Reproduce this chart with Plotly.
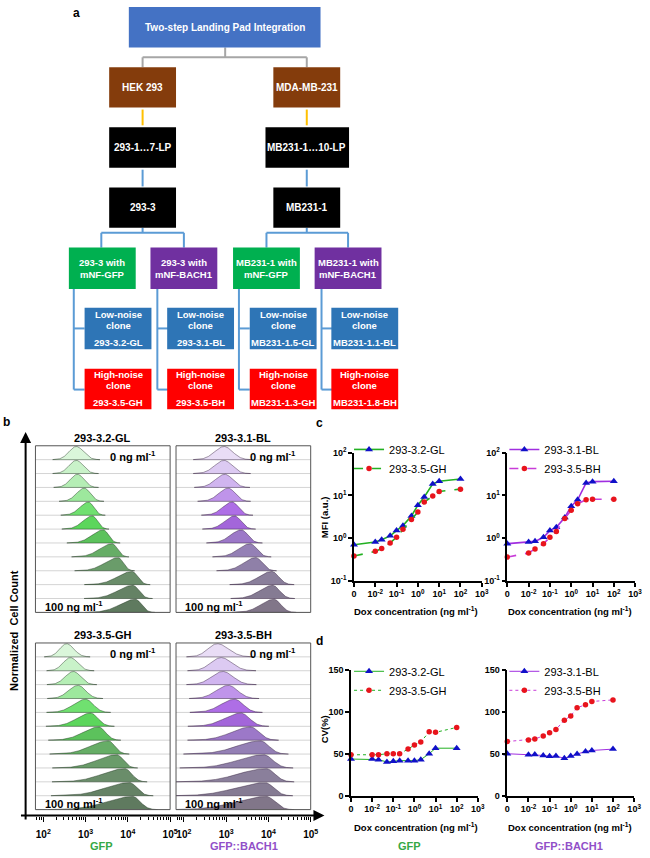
import numpy as np
import plotly.graph_objects as go

W, H = 650, 858


def X(px):
    return px / W


def Y(py):
    return 1 - py / H


FONT = "Liberation Sans, Arial, Helvetica, sans-serif"
BOXFONT = "Liberation Sans, Arial, Helvetica, sans-serif"

# ---------------- data: dose response ----------------
dox = [0, 0.01, 0.02, 0.05, 0.1, 0.2, 0.5, 1, 2, 5, 10, 100]
zero_pos = 0.001
dox_tickvals = [0.001, 0.01, 0.1, 1, 10, 100, 1000]
dox_ticktext = ["0", "10<sup>-2</sup>", "10<sup>-1</sup>", "10<sup>0</sup>",
                "10<sup>1</sup>", "10<sup>2</sup>", "10<sup>3</sup>"]
mfi_tickvals = [0.1, 1, 10, 100]
mfi_ticktext = ["10<sup>-1</sup>", "10<sup>0</sup>", "10<sup>1</sup>", "10<sup>2</sup>"]
cv_tickvals = [0, 50, 100, 150]

mfi_GL = [0.70, 0.81, 0.92, 1.13, 1.50, 1.96, 3.3, 5.9, 9.2, 18.6, 21.5, 24.2]
mfi_GH = [0.38, 0.49, 0.57, 0.77, 1.05, 1.61, 2.74, 4.1, 7.0, 9.7, 12.4, 14.0]
mfi_BL = [0.74, 0.81, 0.84, 1.05, 1.50, 1.79, 3.05, 5.6, 7.9, 19.6, 21.0, 21.4]
mfi_BH = [0.36, 0.45, 0.56, 0.74, 1.05, 1.43, 2.9, 4.5, 6.4, 7.9, 8.1, 8.1]

cv_GL = [43.7, 43.7, 43.0, 40.2, 41.0, 41.8, 41.8, 41.8, 43.0, 50.0, 56.6, 56.6]
cv_GH = [48.8, 48.8, 48.8, 50.0, 50.0, 50.0, 55.5, 60.5, 64.0, 76.0, 75.4, 81.3]
cv_BL = [50.0, 48.8, 49.2, 48.0, 46.9, 47.3, 44.5, 47.3, 49.6, 52.7, 53.9, 55.5]
cv_BH = [64.5, 66.4, 67.6, 71.1, 75.0, 78.9, 89.8, 94.9, 104.7, 108.2, 112.1, 114.0]

# ---------------- data: histograms (log10 peak, left / right spread in decades) ----------------
GL_peak = [2.78, 2.78, 2.81, 2.97, 3.07, 3.16, 3.42, 3.63, 3.77, 4.10, 4.12, 4.18]
GL_sl = [0.17, 0.17, 0.17, 0.18, 0.20, 0.22, 0.26, 0.29, 0.31, 0.34, 0.35, 0.36]
GL_sr = [0.17, 0.16, 0.15, 0.14, 0.12, 0.12, 0.12, 0.12, 0.12, 0.13, 0.14, 0.14]

BL_peak = [2.95, 2.95, 2.97, 3.05, 3.14, 3.20, 3.36, 3.57, 3.70, 4.08, 4.10, 4.13]
BL_sl = [0.22, 0.22, 0.22, 0.22, 0.22, 0.23, 0.25, 0.27, 0.28, 0.30, 0.30, 0.30]
BL_sr = [0.20, 0.19, 0.18, 0.16, 0.15, 0.15, 0.15, 0.15, 0.15, 0.16, 0.16, 0.16]

GH_peak = [2.55, 2.64, 2.71, 2.82, 3.00, 3.12, 3.31, 3.54, 3.74, 3.93, 4.04, 4.11]
GH_sl = [0.16, 0.17, 0.19, 0.22, 0.28, 0.32, 0.36, 0.42, 0.46, 0.52, 0.56, 0.60]
GH_sr = [0.17, 0.17, 0.17, 0.18, 0.18, 0.17, 0.16, 0.15, 0.15, 0.16, 0.17, 0.18]

BH_peak = [2.79, 2.88, 2.92, 3.05, 3.20, 3.35, 3.58, 3.81, 3.89, 3.95, 3.92, 3.95]
BH_sl = [0.22, 0.24, 0.26, 0.28, 0.32, 0.38, 0.45, 0.55, 0.60, 0.65, 0.68, 0.70]
BH_sr = [0.26, 0.25, 0.24, 0.22, 0.20, 0.20, 0.20, 0.20, 0.21, 0.20, 0.20, 0.20]

gfp_colors = ["#daf6da", "#c9f2c9", "#b5eeb5", "#9de89d", "#70e070", "#5cd65c",
              "#5cc25c", "#66ad66", "#6a9c6a", "#6a8d6a", "#658265", "#5f7a5f"]
bach_colors = ["#e9ddf6", "#dccaf2", "#d0b5ef", "#bf94ea", "#ae6ee6", "#a366da",
               "#9c78c8", "#9480b5", "#8f80a8", "#8a7f9b", "#857b93", "#817689"]

hist_titles = ["293-3.2-GL", "293-3.1-BL", "293-3.5-GH", "293-3.5-BH"]

# ---------------- figure ----------------
fig = go.Figure()
shapes = []
ann = []


def line(x0, y0, x1, y1, color, width=2):
    shapes.append(dict(type="line", xref="paper", yref="paper", x0=X(x0), y0=Y(y0),
                       x1=X(x1), y1=Y(y1), line=dict(color=color, width=width)))


def box(x0, y0, x1, y1, color):
    shapes.append(dict(type="rect", xref="paper", yref="paper", x0=X(x0), y0=Y(y1),
                       x1=X(x1), y1=Y(y0), fillcolor=color, line=dict(width=0)))


def text(x, y, s, size=9.5, color="white", family=BOXFONT, bold=True, angle=0,
         xanchor="center"):
    ann.append(dict(xref="paper", yref="paper", x=X(x), y=Y(y),
                    text=f"<b>{s}</b>" if bold else s, showarrow=False,
                    font=dict(size=size, color=color, family=family),
                    xanchor=xanchor, yanchor="middle", textangle=angle))


# ---------------- panel a ----------------
text(75, 6, "a", size=12, color="black", family=FONT)
GREY, YEL, LBLUE = "#A6A6A6", "#FFC000", "#5B9BD5"
line(226, 41, 226, 51, GREY)
line(142, 51, 309, 51, GREY)
line(142, 51, 142, 61, GREY)
line(309, 51, 309, 61, GREY)
line(142, 104, 142, 120, YEL)
line(309, 104, 309, 120, YEL)
line(142, 165, 142, 182, LBLUE)
line(309, 165, 309, 182, LBLUE)
for cx, l, r in [(142, 100, 184), (309, 268, 351)]:
    line(cx, 224, cx, 229, LBLUE)
    line(l, 229, r, 229, LBLUE)
    line(l, 229, l, 244, LBLUE)
    line(r, 229, r, 244, LBLUE)
for bx in [72, 157, 240, 324]:
    line(bx, 286, bx, 388, LBLUE)
    line(bx, 326, bx + 11, 326, LBLUE)
    line(bx, 388, bx + 11, 388, LBLUE)

box(128, 0, 323, 41, "#4472C4")
text(226, 21, "Two-step Landing Pad Integration", size=10)
box(108, 61, 176, 102, "#843C0C")
text(142, 82, "HEK 293", size=10)
box(275, 61, 343, 102, "#843C0C")
text(309, 82, "MDA-MB-231", size=10)
box(108, 122, 176, 163, "#000000")
text(142, 142, "293-1…7-LP", size=10)
box(267, 122, 352, 163, "#000000")
text(309, 142, "MB231-1…10-LP", size=10)
box(108, 183, 176, 224, "#000000")
text(142, 203, "293-3", size=10)
box(275, 183, 343, 224, "#000000")
text(309, 203, "MB231-1", size=10)

construct_l1 = ["293-3 with", "293-3 with", "MB231-1 with", "MB231-1 with"]
construct_l2 = ["mNF-GFP", "mNF-BACH1", "mNF-GFP", "mNF-BACH1"]
construct_col = ["#00B050", "#7030A0", "#00B050", "#7030A0"]
low_names = ["293-3.2-GL", "293-3.1-BL", "MB231-1.5-GL", "MB231-1.1-BL"]
high_names = ["293-3.5-GH", "293-3.5-BH", "MB231-1.3-GH", "MB231-1.8-BH"]
for i, x0 in enumerate([67, 150, 234, 317]):
    box(x0, 244, x0 + 68, 286, construct_col[i])
    text(x0 + 34, 259, construct_l1[i])
    text(x0 + 34, 271, construct_l2[i])
for i, x0 in enumerate([83, 167, 251, 334]):
    box(x0, 305, x0 + 68, 347, "#2E75B6")
    text(x0 + 34, 312, "Low-noise")
    text(x0 + 34, 323, "clone")
    text(x0 + 34, 340, low_names[i])
    box(x0, 367, x0 + 68, 408, "#FF0000")
    text(x0 + 34, 373, "High-noise")
    text(x0 + 34, 384, "clone")
    text(x0 + 34, 401, high_names[i])

# ---------------- panel b: histograms ----------------
text(4, 421, "b", size=12, color="black", family=FONT)
HRANGE = [1.814, 5.0]
grid = np.linspace(HRANGE[0], HRANGE[1], 400)
hist_sets = [
    (1, GL_peak, GL_sl, GL_sr, gfp_colors, (33, 170, 445, 614)),
    (2, BL_peak, BL_sl, BL_sr, bach_colors, (176, 313, 445, 614)),
    (3, GH_peak, GH_sl, GH_sr, gfp_colors, (33, 170, 645, 814)),
    (4, BH_peak, BH_sl, BH_sr, bach_colors, (176, 313, 645, 814)),
]
layout_axes = {}
for k, peaks, sl, sr, cols, (x0, x1, y0, y1) in hist_sets:
    xa = "x" if k == 1 else f"x{k}"
    ya = "y" if k == 1 else f"y{k}"
    xname = "xaxis" if k == 1 else f"xaxis{k}"
    yname = "yaxis" if k == 1 else f"yaxis{k}"
    for i in range(12):
        base = 11 - i
        s = np.where(grid < peaks[i], sl[i], sr[i])
        d = np.exp(-0.5 * ((grid - peaks[i]) / s) ** 2)
        m = d > 0.004
        g = grid[m]
        yv = base + 0.95 * d[m]
        xs = np.concatenate([10 ** g, 10 ** g[::-1]])
        ys = np.concatenate([yv, np.full(g.size, base)])
        edge = "rgba(30,50,30,0.55)" if cols is gfp_colors else "rgba(50,30,60,0.55)"
        fig.add_trace(go.Scatter(x=xs, y=ys, mode="lines", fill="toself",
                                 fillcolor=cols[i], line=dict(color=edge, width=0.8),
                                 xaxis=xa, yaxis=ya, showlegend=False, hoverinfo="skip"))
        shapes.append(dict(type="line", xref=f"{xa} domain", yref=ya, x0=0, x1=1,
                           y0=base, y1=base, line=dict(color="#d4d4d4", width=1),
                           layer="below"))
    shapes.append(dict(type="rect", xref=f"{xa} domain", yref=f"{ya} domain",
                       x0=0, x1=1, y0=0, y1=1, line=dict(color="#555555", width=1)))
    xax = dict(domain=[X(x0), X(x1)], type="log", range=HRANGE, showgrid=False,
               zeroline=False, showline=False)
    if k <= 2:
        xax.update(visible=False, anchor=ya)
    else:
        xax.update(anchor="free", position=Y(820), tickmode="linear", tick0=0, dtick=1,
                   exponentformat="power", showexponent="all", ticks="outside",
                   ticklen=5, tickwidth=1.2, tickcolor="black",
                   minor=dict(ticks="outside", ticklen=3, dtick="D1", tickcolor="black",
                              tickwidth=1),
                   tickfont=dict(family=FONT, size=8, color="black", weight="bold"),
                   ticklabelstandoff=5)
    layout_axes[xname] = xax
    layout_axes[yname] = dict(domain=[Y(y1), Y(y0)], range=[0, 12], visible=False,
                              anchor=xa)
    tx = (x0 + x1) / 2
    text(tx, y0 - 8, hist_titles[k - 1], size=11, color="black", family=FONT)
    text(x1 - 38, y0 + 10, "0 ng ml<sup>-1</sup>", size=11, color="black", family=FONT)
    text(x0 + 39, y1 - 7, "100 ng ml<sup>-1</sup>", size=11, color="black", family=FONT)

text(11, 632, "Normalized  Cell Count", size=11, color="black", family=FONT, angle=-90)
ann.append(dict(xref="paper", yref="paper", x=X(23), y=Y(431), ax=0, ay=389, text="",
                showarrow=True, arrowhead=2, arrowsize=1.1, arrowwidth=2,
                arrowcolor="black", standoff=0))
ann.append(dict(xref="paper", yref="paper", x=X(327), y=Y(820), ax=-305, ay=0, text="",
                showarrow=True, arrowhead=2, arrowsize=1.1, arrowwidth=2,
                arrowcolor="black", standoff=0))
GFPC, BACHC = "#35a845", "#9150c8"
text(100, 851, "GFP", size=11, color=GFPC, family=FONT)
text(245, 851, "GFP::BACH1", size=11, color=BACHC, family=FONT)

# ---------------- panels c and d ----------------
text(322, 422, "c", size=12, color="black", family=FONT)
text(322, 643, "d", size=12, color="black", family=FONT)
dox_plot = [zero_pos if v == 0 else v for v in dox]

BLUE, RED = "#1010c8", "#e8141c"
GL_LINE, BL_LINE, BH_LINE = "#22b022", "#a02ee0", "#c83cd8"

line_sets = [
    (5, mfi_GL, mfi_GH, "293-3.2-GL", "293-3.5-GH", GL_LINE, GL_LINE, "dash", 1.6, "legend"),
    (6, mfi_BL, mfi_BH, "293-3.1-BL", "293-3.5-BH", BL_LINE, BH_LINE, "dash", 1.6, "legend2"),
    (7, cv_GL, cv_GH, "293-3.2-GL", "293-3.5-GH", GL_LINE, GL_LINE, "dot", 1.0, "legend3"),
    (8, cv_BL, cv_BH, "293-3.1-BL", "293-3.5-BH", BL_LINE, BH_LINE, "dot", 1.0, "legend4"),
]
for k, lo, hi, nlo, nhi, clo, chi, dash, lw, lg in line_sets:
    xa, ya = f"x{k}", f"y{k}"
    fig.add_trace(go.Scatter(x=dox_plot, y=lo, name=nlo, mode="lines+markers",
                             line=dict(color=clo, width=lw),
                             marker=dict(symbol="triangle-up", size=7, color=BLUE),
                             xaxis=xa, yaxis=ya, legend=lg, cliponaxis=False))
    fig.add_trace(go.Scatter(x=dox_plot, y=hi, name=nhi, mode="lines+markers",
                             line=dict(color=chi, width=lw, dash=dash),
                             marker=dict(symbol="circle", size=5.5, color=RED),
                             xaxis=xa, yaxis=ya, legend=lg, cliponaxis=False))

tickfont = dict(family=FONT, size=9, color="black", weight="bold")
axcommon = dict(showline=True, linewidth=1.5, linecolor="black", ticks="outside",
                ticklen=4, tickwidth=1.5, tickcolor="black", showgrid=False,
                zeroline=False, tickfont=tickfont)
plot_boxes = {5: (357, 487, 452, 582), 6: (513, 643, 452, 582),
              7: (354, 483, 672, 800), 8: (513, 642, 672, 800)}
for k, (x0, x1, y0, y1) in plot_boxes.items():
    xa = dict(domain=[X(x0), X(x1)], anchor=f"y{k}", type="log", range=[-3, 3],
              tickmode="array", tickvals=dox_tickvals, ticktext=dox_ticktext, **axcommon)
    if k in (5, 6):
        ya = dict(domain=[Y(y1), Y(y0)], anchor=f"x{k}", type="log", range=[-1, 2],
                  tickmode="array", tickvals=mfi_tickvals, ticktext=mfi_ticktext,
                  **axcommon)
    else:
        ya = dict(domain=[Y(y1), Y(y0)], anchor=f"x{k}", range=[0, 150],
                  tickmode="array", tickvals=cv_tickvals, **axcommon)
    layout_axes[f"xaxis{k}"] = xa
    layout_axes[f"yaxis{k}"] = ya

for cx, cy in [(420, 613), (577, 613), (420, 832), (577, 832)]:
    text(cx, cy, "Dox concentration (ng ml<sup>-1</sup>)", size=9.5, color="black",
         family=FONT)
text(327, 517, "MFI (a.u.)", size=9.5, color="black", family=FONT, angle=-90)
text(327, 732, "CV(%)", size=9.5, color="black", family=FONT, angle=-90)
text(413, 851, "GFP", size=11, color=GFPC, family=FONT)
text(576, 851, "GFP::BACH1", size=11, color=BACHC, family=FONT)

leg = dict(bgcolor="rgba(0,0,0,0)", font=dict(family=FONT, size=11, color="black"),
           itemwidth=30, tracegroupgap=0, traceorder="normal", xanchor="left",
           yanchor="top", borderwidth=0)
fig.update_layout(
    width=W, height=H, margin=dict(l=0, r=0, t=0, b=0),
    paper_bgcolor="white", plot_bgcolor="white",
    shapes=shapes, annotations=ann, showlegend=True,
    legend=dict(leg, x=X(352), y=Y(434)),
    legend2=dict(leg, x=X(510), y=Y(434)),
    legend3=dict(leg, x=X(352), y=Y(659)),
    legend4=dict(leg, x=X(510), y=Y(659)),
    font=dict(family=FONT),
    **layout_axes,
)
fig.write_html("out.html", config={"displayModeBar": False},
               post_script="document.body.style.margin='0';document.body.style.overflow='hidden';")
